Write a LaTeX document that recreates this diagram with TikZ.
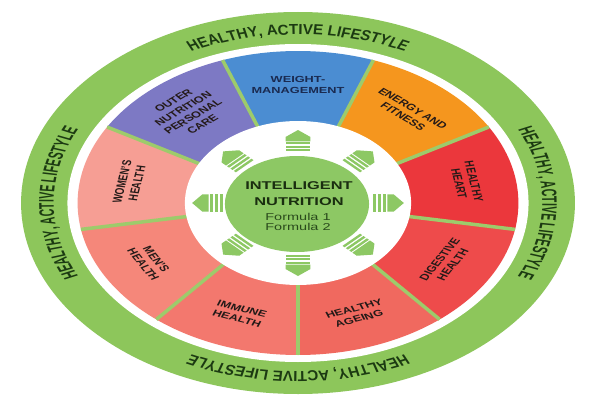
\documentclass[tikz,border=0pt]{standalone}
\usepackage{fontspec}
\setmainfont{Liberation Sans}
\definecolor{ringgreen}{HTML}{8DC65B}
\definecolor{ringtxt}{HTML}{1C3A12}
\definecolor{sepgreen}{HTML}{9DCB6B}
\definecolor{cgreen}{HTML}{8DC864}
\definecolor{cpurple}{HTML}{7D79C4}
\definecolor{cblue}{HTML}{4B8DD2}
\definecolor{corange}{HTML}{F5961E}
\definecolor{cheart}{HTML}{EB373C}
\definecolor{cdigest}{HTML}{EE4B4B}
\definecolor{cageing}{HTML}{F0695F}
\definecolor{cimmune}{HTML}{F3786E}
\definecolor{cmens}{HTML}{F5877A}
\definecolor{cwomens}{HTML}{F69E94}
\definecolor{segtxt}{HTML}{241A18}
\definecolor{bluetxt}{HTML}{1A2A50}
\definecolor{centtxt}{HTML}{1A2E10}
\definecolor{formtxt}{HTML}{2A4A1C}
\tikzset{
  ringletter/.style={transform shape, anchor=base, inner sep=0pt, font=\bfseries\fontsize{14.5}{16}\selectfont, text=ringtxt},
  segtext/.style={transform shape, align=center, inner sep=0pt, font=\bfseries\fontsize{8.8}{10.4}\selectfont, text=segtxt},
  centtext/.style={transform shape, anchor=base, inner sep=0pt, font=\bfseries\fontsize{11.3}{12}\selectfont, text=centtxt},
  formtext/.style={transform shape, anchor=base, inner sep=0pt, font=\fontsize{10}{11}\selectfont, text=formtxt},
  sepline/.style={draw=sepgreen, line width=3.5pt},
  arrowfill/.style={fill=cgreen}
}
% letter advance in pt = em width * 14.5 * 0.72
\def\rtem{10.44}
\def\rttotal{152.6}
\newcommand\ringtext[3]{% #1 centre angle, #2 baseline radius, #3 name prefix
  \pgfmathsetmacro\rtstart{#1+(\rttotal/2)/(#2)*57.29578}%
  \xdef\rtpos{\rtstart}%
  \foreach \ch/\w [count=\i] in {H/.722, E/.667, A/.722, L/.611, T/.611, H/.722, Y/.667, {,}/.278, {}/.278, A/.722, C/.722, T/.611, I/.278, V/.667, E/.667, {}/.278, L/.611, I/.278, F/.611, E/.667, S/.667, T/.611, Y/.667, L/.611, E/.667}{%
    \pgfmathsetmacro\rtwid{\w*\rtem}%
    \pgfmathsetmacro\rtmid{\rtpos-(\rtwid/2)/(#2)*57.29578}%
    \node[ringletter, rotate=\rtmid-90, xscale=0.72] (#3\i) at (\rtmid:#2) {\ch};%
    \pgfmathsetmacro\rtnext{\rtpos-\rtwid/(#2)*57.29578}%
    \xdef\rtpos{\rtnext}%
  }%
}
\begin{document}
\begin{tikzpicture}[x=1pt,y=1pt]
\useasboundingbox (0,0) rectangle (600,400);
\fill[white] (0,0) rectangle (600,400);
\begin{scope}[shift={(298,197)}, xscale=1.45]
  % outer green ring
  \fill[ringgreen] (0,0) circle[radius=191];
  \fill[white] (0,0) circle[radius=159];
  % segments
  \foreach \s/\e/\c in {110/150/cpurple, 70/110/cblue, 30/70/corange, -10/30/cheart, -50/-10/cdigest, -90/-50/cageing, -130/-90/cimmune, -170/-130/cmens, 150/190/cwomens}
    \fill[\c] (0,0) -- (\s:152) arc[start angle=\s, end angle=\e, radius=152] -- cycle;
  \foreach \a in {150,110,70,30,-10,-50,-90,-130,-170}
    \draw[sepline] (0,0) -- (\a:152);
  % inner white
  \fill[white] (0,0) ellipse[x radius=78, y radius=82];
  % arrows
  \foreach \a in {0,45,...,315}{
    \begin{scope}[rotate=\a]
      \fill[arrowfill] (52,-8.6) rectangle (54,8.6);
      \fill[arrowfill] (55.3,-8.6) rectangle (57.3,8.6);
      \fill[arrowfill] (58.6,-8.6) rectangle (60.6,8.6);
      \fill[arrowfill] (61.6,-8.6) -- (66,-8.6) -- (73,0) -- (66,8.6) -- (61.6,8.6) -- cycle;
    \end{scope}
  }
  % center
  \fill[cgreen] (-0.7,-1) ellipse[x radius=49.7, y radius=48];
  \node[centtext] (intel) at (0.7,13.7) {INTELLIGENT};
  \node[centtext] (nutr) at (0.7,-2) {NUTRITION};
  \node[formtext] (f1) at (0,-17.7) {Formula 1};
  \node[formtext] (f2) at (0,-27) {Formula 2};
  % segment labels
  \node[segtext, rotate=40] (outer) at (130:118) {OUTER\\NUTRITION\\PERSONAL\\CARE};
  \node[segtext, rotate=0, text=bluetxt] (weight) at (90:118) {WEIGHT-\\MANAGEMENT};
  \node[segtext, rotate=-40] (energy) at (50:118) {ENERGY AND\\FITNESS};
  \node[segtext, rotate=-80] (heart) at (10:118) {HEALTHY\\HEART};
  \node[segtext, rotate=60] (digest) at (-30:118) {DIGESTIVE\\HEALTH};
  \node[segtext, rotate=20] (ageing) at (-70:118) {HEALTHY\\AGEING};
  \node[segtext, rotate=-20] (immune) at (-110:118) {IMMUNE\\HEALTH};
  \node[segtext, rotate=-60] (mens) at (-150:118) {MEN'S\\HEALTH};
  \node[segtext, rotate=80] (womens) at (170:118) {WOMEN'S\\HEALTH};
  % ring texts
  \ringtext{90}{168.5}{top}
  \ringtext{0}{168.5}{rgt}
  \ringtext{-90}{168.5}{bot}
  \ringtext{180}{168.5}{lft}
\end{scope}
\end{tikzpicture}
\end{document}
